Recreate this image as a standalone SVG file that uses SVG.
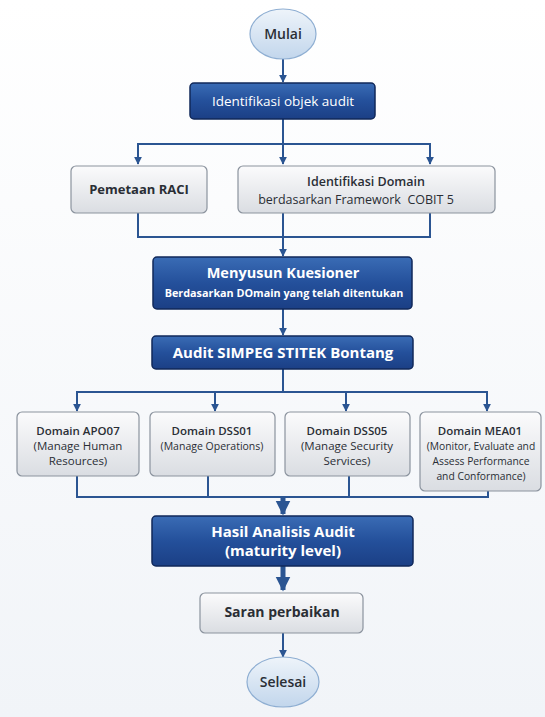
<svg xmlns="http://www.w3.org/2000/svg" width="545" height="717" viewBox="0 0 545 717">
<defs>
<linearGradient id="gBlue" x1="0" y1="0" x2="0" y2="1"><stop offset="0" stop-color="#3a6cb5"/><stop offset="0.5" stop-color="#24509b"/><stop offset="1" stop-color="#1b3f85"/></linearGradient>
<linearGradient id="gGray" x1="0" y1="0" x2="0" y2="1"><stop offset="0" stop-color="#fbfbfc"/><stop offset="1" stop-color="#dadde2"/></linearGradient>
<linearGradient id="gEll" x1="0" y1="0" x2="0" y2="1"><stop offset="0" stop-color="#eef4fa"/><stop offset="1" stop-color="#c2d6ec"/></linearGradient>
<linearGradient id="gBg" x1="0" y1="0" x2="0" y2="1"><stop offset="0" stop-color="#ffffff"/><stop offset="1" stop-color="#f1f4f8"/></linearGradient>
<marker id="ah" viewBox="0 0 10 10" refX="9" refY="5" markerWidth="4" markerHeight="4" orient="auto"><path d="M0,0 L10,5 L0,10 z" fill="#2b5592"/></marker>
<marker id="ahb" viewBox="0 0 10 10" refX="9" refY="5" markerWidth="3" markerHeight="3.6" orient="auto"><path d="M0,0 L10,5 L0,10 z" fill="#2b5592"/></marker>
</defs>
<style>
.blue{fill:url(#gBlue);stroke:#10285a;stroke-width:1.5}
.gray{fill:url(#gGray);stroke:#8b939e;stroke-width:1.2}
.ell{fill:url(#gEll);stroke:#8eaed2;stroke-width:1.2}
.ln{fill:none;stroke:#2b5592;stroke-width:2}
.ar{fill:none;stroke:#2b5592;stroke-width:2;marker-end:url(#ah)}
.thk{fill:none;stroke:#2b5592;stroke-width:5;marker-end:url(#ahb)}
text{font-family:"Open Sans","Noto Sans","Liberation Sans",sans-serif;text-anchor:middle}
.w{fill:#ffffff}
.d{fill:#2a2e35}
.b{font-weight:700}
.sb{font-weight:600}
</style>
<rect width="545" height="717" fill="url(#gBg)"/>
<g id="connectors">
<line class="ar" x1="283" y1="59" x2="283" y2="82"/>
<line class="ln" x1="283" y1="119" x2="283" y2="144"/>
<polyline class="ln" points="138,150 138,144 430,144 430,150"/>
<line class="ar" x1="138" y1="145" x2="138" y2="164"/>
<line class="ar" x1="283" y1="145" x2="283" y2="164"/>
<line class="ar" x1="430" y1="145" x2="430" y2="164"/>
<polyline class="ln" points="138,213 138,237 430,237 430,213"/>
<line class="ln" x1="283" y1="213" x2="283" y2="237"/>
<line class="ar" x1="283" y1="237" x2="283" y2="256"/>
<line class="ar" x1="283" y1="309" x2="283" y2="335"/>
<line class="ln" x1="283" y1="369" x2="283" y2="392"/>
<polyline class="ln" points="77,398 77,392 487,392 487,398"/>
<line class="ar" x1="77" y1="392" x2="77" y2="411"/>
<line class="ar" x1="215" y1="392" x2="215" y2="411"/>
<line class="ar" x1="346" y1="392" x2="346" y2="411"/>
<line class="ar" x1="487" y1="392" x2="487" y2="411"/>
<polyline class="ln" points="77,476 77,497 488,497 488,491"/>
<line class="ln" x1="208" y1="476" x2="208" y2="497"/>
<line class="ln" x1="349" y1="476" x2="349" y2="497"/>
<line class="thk" x1="283" y1="497" x2="283" y2="514"/>
<line class="thk" x1="283" y1="566" x2="283" y2="590"/>
<line class="ar" x1="283" y1="633" x2="283" y2="657"/>
</g>
<g id="mulai"><ellipse class="ell" cx="283" cy="34" rx="33" ry="25"/><text class="d sb" x="283" y="39" font-size="14">Mulai</text></g>
<g id="identifikasi-objek"><rect class="blue" x="190" y="83" width="185" height="36" rx="4"/><text class="w" x="283" y="106" font-size="13.5">Identifikasi objek audit</text></g>
<g id="pemetaan-raci"><rect class="gray" x="71" y="166" width="136" height="47" rx="5"/><text class="d b" x="139" y="194" font-size="13">Pemetaan RACI</text></g>
<g id="identifikasi-domain"><rect class="gray" x="238" y="166" width="257" height="47" rx="5"/><text class="d sb" x="366" y="186" font-size="12.5">Identifikasi Domain</text><text class="d" x="356" y="204" font-size="12.5" xml:space="preserve">berdasarkan Framework  COBIT 5</text></g>
<g id="menyusun-kuesioner"><rect class="blue" x="153" y="257" width="259" height="52" rx="4"/><text class="w b" x="283" y="278" font-size="14.5">Menyusun Kuesioner</text><text class="w b" x="284" y="297" font-size="10.8">Berdasarkan DOmain yang telah ditentukan</text></g>
<g id="audit-simpeg"><rect class="blue" x="152" y="336" width="261" height="33" rx="4"/><text class="w b" x="283" y="358" font-size="15">Audit SIMPEG STITEK Bontang</text></g>
<g id="apo07"><rect class="gray" x="17" y="412" width="122" height="64" rx="5"/><text class="d sb" x="78" y="435" font-size="11.5">Domain APO07</text><text class="d" x="78" y="450" font-size="11.5">(Manage Human</text><text class="d" x="78" y="465" font-size="11.5">Resources)</text></g>
<g id="dss01"><rect class="gray" x="150" y="412" width="125" height="64" rx="5"/><text class="d sb" x="212" y="435" font-size="11.5">Domain DSS01</text><text class="d" x="212" y="450" font-size="10.5">(Manage Operations)</text></g>
<g id="dss05"><rect class="gray" x="285" y="412" width="125" height="64" rx="5"/><text class="d sb" x="347" y="435" font-size="11.5">Domain DSS05</text><text class="d" x="347" y="450" font-size="11.5">(Manage Security</text><text class="d" x="347" y="465" font-size="11.5">Services)</text></g>
<g id="mea01"><rect class="gray" x="420" y="412" width="121" height="79" rx="5"/><text class="d sb" x="480" y="435" font-size="11.5">Domain MEA01</text><text class="d" x="481" y="450" font-size="10.3">(Monitor, Evaluate and</text><text class="d" x="481" y="465" font-size="10.3">Assess Performance</text><text class="d" x="481" y="480" font-size="10.3">and Conformance)</text></g>
<g id="hasil-analisis"><rect class="blue" x="152" y="516" width="261" height="50" rx="4"/><text class="w b" x="283" y="537" font-size="15">Hasil Analisis Audit</text><text class="w b" x="283" y="556" font-size="15">(maturity level)</text></g>
<g id="saran"><rect class="gray" x="200" y="593" width="163" height="40" rx="5"/><text class="d b" x="282" y="617" font-size="14">Saran perbaikan</text></g>
<g id="selesai"><ellipse class="ell" cx="283" cy="682" rx="36" ry="25"/><text class="d sb" x="283" y="687" font-size="14">Selesai</text></g>
</svg>
